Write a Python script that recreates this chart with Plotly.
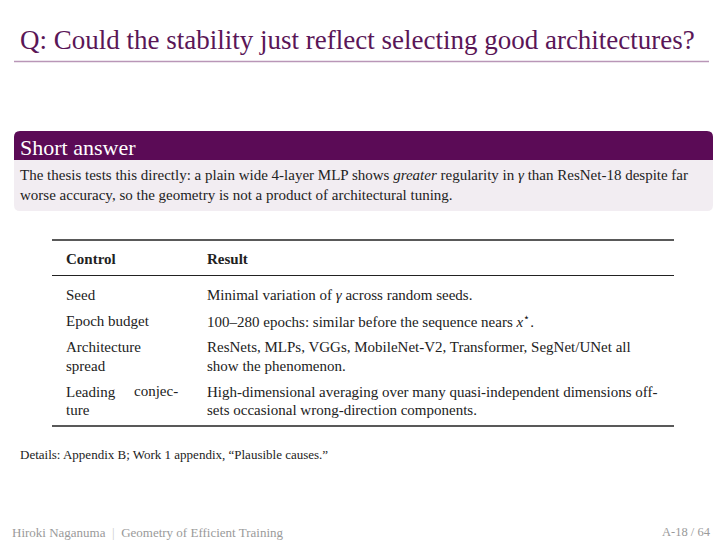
import plotly.graph_objects as go

# Slide content
slide_title = "Q: Could the stability just reflect selecting good architectures?"
block_title = "Short answer"
block_lines = [
    "The thesis tests this directly: a plain wide 4-layer MLP shows <i>greater</i> regularity in <i>γ</i> than ResNet-18 despite far",
    "worse accuracy, so the geometry is not a product of architectural tuning.",
]
table_header = ["Control", "Result"]
controls = [
    ["Seed"],
    ["Epoch budget"],
    ["Architecture", "spread"],
    ["Leading", "ture"],
]
results = [
    ["Minimal variation of <i>γ</i> across random seeds."],
    ["100–280 epochs: similar before the sequence nears <i>x</i><sup>⋆</sup>."],
    ["ResNets, MLPs, VGGs, MobileNet-V2, Transformer, SegNet/UNet all",
     "show the phenomenon."],
    ["High-dimensional averaging over many quasi-independent dimensions off-",
     "sets occasional wrong-direction components."],
]
details = "Details: Appendix B; Work 1 appendix, “Plausible causes.”"
footer_left = "Hiroki Naganuma  <span style='color:#cccccc'>|</span>  Geometry of Efficient Training"
footer_right = "A-18 / 64"

W, H = 726, 544
SERIF = "Liberation Serif"
PURPLE = "#5b0b56"
TITLE_PURPLE = "#5a1657"
TEXT = "#222222"
GREY = "#9a9a9a"
PAD = 2  # annotation box padding, pulled back so glyphs start where intended

shapes = []
annotations = []


def text(x, y, s, size, color=TEXT, xanchor="left"):
    annotations.append(dict(
        x=x - PAD if xanchor == "left" else x + PAD, y=y, xref="x", yref="y",
        text=s, showarrow=False,
        xanchor=xanchor, yanchor="middle", align=xanchor,
        font=dict(family=SERIF, size=size, color=color),
    ))


def hline(x0, x1, y, width, color="#222222"):
    shapes.append(dict(type="line", xref="x", yref="y", x0=x0, x1=x1, y0=y, y1=y,
                       line=dict(color=color, width=width)))


# title + rule
text(20, 40, slide_title, 27, TITLE_PURPLE)
hline(14, 709, 61.5, 1.3, "#b996b7")

# block: header bar with rounded top, body with rounded bottom
bx0, bx1, by0, bmid, by1, r = 14, 713, 131, 160, 211, 6
shapes.append(dict(
    type="path", xref="x", yref="y", line=dict(width=0), fillcolor=PURPLE, layer="below",
    path=f"M {bx0},{bmid} L {bx0},{by0 + r} Q {bx0},{by0} {bx0 + r},{by0} "
         f"L {bx1 - r},{by0} Q {bx1},{by0} {bx1},{by0 + r} L {bx1},{bmid} Z",
))
shapes.append(dict(
    type="path", xref="x", yref="y", line=dict(width=0), fillcolor="#f2edf2", layer="below",
    path=f"M {bx0},{bmid} L {bx1},{bmid} L {bx1},{by1 - r} Q {bx1},{by1} {bx1 - r},{by1} "
         f"L {bx0 + r},{by1} Q {bx0},{by1} {bx0},{by1 - r} Z",
))
text(20, 147, block_title, 22, "white")
for i, line in enumerate(block_lines):
    text(20, 175 + 20 * i, line, 15)

# booktabs-style table
tx0, tx1, col1, col2 = 52, 674, 66, 207
hline(tx0, tx1, 240, 1.6)
text(col1, 259, f"<b>{table_header[0]}</b>", 15)
text(col2, 259, f"<b>{table_header[1]}</b>", 15)
hline(tx0, tx1, 275.5, 1.0)

y = 295
line_gap, row_gap = 18.5, 26
for ctrl, res in zip(controls, results):
    for j, s in enumerate(ctrl):
        text(col1, y + line_gap * j, s, 15)
    for j, s in enumerate(res):
        text(col2, y + line_gap * j, s, 15)
    n = max(len(ctrl), len(res))
    y += line_gap * (n - 1) + row_gap
# justified hyphenation in the last control cell
text(178, 391, "conjec-", 15, xanchor="right")
hline(tx0, tx1, 426, 1.6)

text(20, 454, details, 13)

# footer
text(12, 532, footer_left, 13, GREY)
text(711, 532, footer_right, 12.5, GREY, xanchor="right")

fig = go.Figure()
fig.update_layout(
    width=W, height=H,
    margin=dict(l=0, r=0, t=0, b=0),
    paper_bgcolor="white", plot_bgcolor="white",
    xaxis=dict(range=[0, W], visible=False, fixedrange=True),
    yaxis=dict(range=[H, 0], visible=False, fixedrange=True),
    shapes=shapes, annotations=annotations,
    showlegend=False,
)
fig.write_html(
    "out.html",
    config={"displayModeBar": False},
    post_script="document.body.style.margin='0';document.body.style.overflow='hidden';",
)
